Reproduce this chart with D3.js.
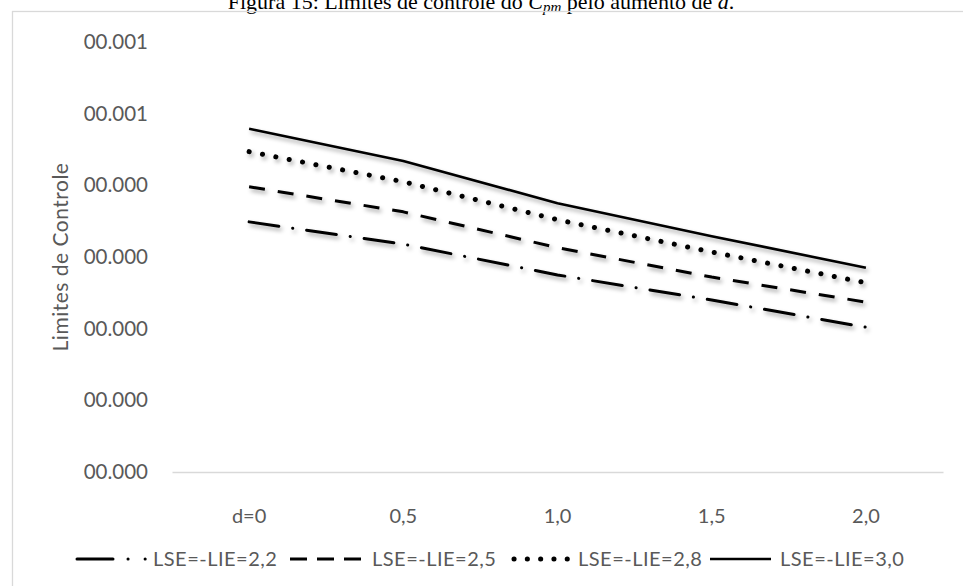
<!DOCTYPE html>
<html>
<head>
<meta charset="utf-8">
<script src="https://cdn.jsdelivr.net/npm/d3@7"></script>
<style>
  body { margin: 0; background: #fff; }
  svg { display: block; }
</style>
</head>
<body>
<div id="chart"></div>
<script>
var categories = ['d=0', '0,5', '1,0', '1,5', '2,0'];
var lse22 = [0.000349, 0.000318, 0.000275, 0.000240, 0.000202];
var lse25 = [0.000398, 0.000363, 0.000313, 0.000272, 0.000237];
var lse28 = [0.000447, 0.000405, 0.000352, 0.000307, 0.000264];
var lse30 = [0.000479, 0.000434, 0.000375, 0.000329, 0.000285];
var seriesNames = ['LSE=-LIE=2,2', 'LSE=-LIE=2,5', 'LSE=-LIE=2,8', 'LSE=-LIE=3,0'];
var yTickValues = [0, 0.0001, 0.0002, 0.0003, 0.0004, 0.0005, 0.0006];

var width = 963, height = 586;
var svg = d3.select('#chart').append('svg').attr('width', width).attr('height', height);

var defs = svg.append('defs');
var shadow = defs.append('filter').attr('id', 'shadow')
	.attr('x', '-10%').attr('y', '-50%').attr('width', '120%').attr('height', '200%');
shadow.append('feDropShadow')
	.attr('dx', 2).attr('dy', 3).attr('stdDeviation', 2)
	.attr('flood-color', '#000').attr('flood-opacity', 0.35);

// titulo (cortado no topo, como na figura original)
var title = svg.append('text')
	.attr('x', 481).attr('y', 9)
	.attr('text-anchor', 'middle')
	.style('font-family', '"Liberation Serif", "Times New Roman", serif')
	.style('font-size', '22px')
	.style('fill', '#000');
title.append('tspan').text('Figura 15: Limites de controle do ');
title.append('tspan').style('font-style', 'italic').text('C');
title.append('tspan').style('font-style', 'italic').style('font-size', '15px').attr('dy', 3).text('pm');
title.append('tspan').attr('dy', -3).text(' pelo aumento de ');
title.append('tspan').style('font-style', 'italic').text('d');
title.append('tspan').text('.');

// borda do grafico
svg.append('rect')
	.attr('x', 12.5).attr('y', 11.5)
	.attr('width', 1000).attr('height', 700)
	.attr('fill', 'none').attr('stroke', '#d9d9d9').attr('stroke-width', 1.3);

var x = d3.scaleBand().domain(categories).range([172, 943]);
var y = d3.scaleLinear().domain([0, 0.0006]).range([472, 42]);

var font = 'Lato, "Open Sans", sans-serif';

// eixo y (so rotulos)
var yAxis = svg.append('g')
	.attr('transform', 'translate(148,0)')
	.call(d3.axisLeft(y).tickValues(yTickValues).tickFormat(d3.format('06.3f')).tickSize(0).tickPadding(0));
yAxis.select('.domain').remove();
yAxis.selectAll('text')
	.style('font-family', font).style('font-size', '20.5px').style('fill', '#595959');

// eixo x
var xAxis = svg.append('g')
	.attr('transform', 'translate(0,' + y(0) + ')')
	.call(d3.axisBottom(x).tickSize(0));
xAxis.select('.domain').attr('stroke', '#d9d9d9').attr('stroke-width', 1.5);
xAxis.selectAll('.tick text')
	.attr('dy', 0).attr('y', 51)
	.style('font-family', font).style('font-size', '20px').style('fill', '#595959');

svg.append('text')
	.attr('transform', 'translate(68,257) rotate(-90)')
	.attr('text-anchor', 'middle')
	.style('font-family', font).style('font-size', '21px').style('fill', '#595959')
	.style('letter-spacing', '0.5px')
	.text('Limites de Controle');

var styles = [
	{ width: 3, dash: '30,14,0.1,14', cap: 'round', legendDash: '36,15,0.1,17,0.1,200' },
	{ width: 3, dash: '16,13', cap: 'butt', legendDash: '17,10' },
	{ width: 5, dash: '0.1,13.5', cap: 'round', legendDash: '0.1,13.2' },
	{ width: 2.6, dash: null, cap: 'butt', legendDash: null }
];
var allSeries = [lse22, lse25, lse28, lse30];

var line = d3.line()
	.x(function (d, i) { return x(categories[i]) + x.bandwidth() / 2; })
	.y(function (d) { return y(d); });

var plot = svg.append('g').attr('filter', 'url(#shadow)');
plot.selectAll('path')
	.data(allSeries)
	.enter()
	.append('path')
	.attr('d', line)
	.attr('fill', 'none')
	.attr('stroke', '#000')
	.attr('stroke-width', function (d, i) { return styles[i].width; })
	.attr('stroke-dasharray', function (d, i) { return styles[i].dash; })
	.attr('stroke-linecap', function (d, i) { return styles[i].cap; })
	.attr('stroke-linejoin', 'round');

// legenda
var legendPos = [
	{ x0: 77, x1: 148, tx: 153 },
	{ x0: 290, x1: 362, tx: 372 },
	{ x0: 514, x1: 568, tx: 578 },
	{ x0: 710, x1: 771, tx: 780 }
];
var legendY = 559;
var legend = svg.append('g');
seriesNames.forEach(function (name, i) {
	legend.append('line')
		.attr('x1', legendPos[i].x0).attr('x2', legendPos[i].x1)
		.attr('y1', legendY).attr('y2', legendY)
		.attr('stroke', '#000')
		.attr('stroke-width', styles[i].width)
		.attr('stroke-dasharray', styles[i].legendDash)
		.attr('stroke-linecap', styles[i].cap);
	legend.append('text')
		.attr('x', legendPos[i].tx).attr('y', legendY)
		.attr('dy', '0.35em')
		.style('font-family', font).style('font-size', '20px').style('fill', '#595959')
		.style('letter-spacing', '0.5px')
		.text(name);
});
</script>
</body>
</html>
